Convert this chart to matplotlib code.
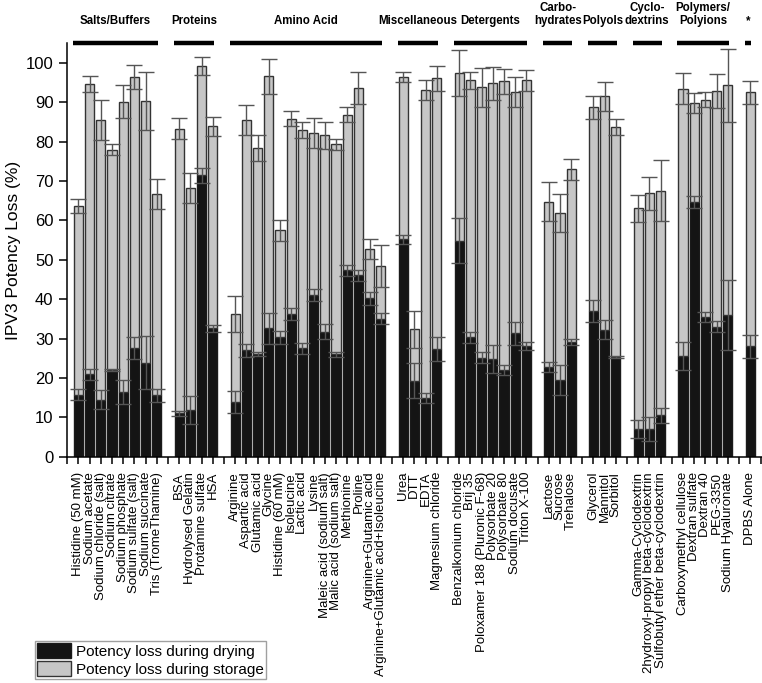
import numpy as np
import matplotlib
matplotlib.use('Agg')
import matplotlib.pyplot as plt
import matplotlib.transforms as mtransforms
from matplotlib.patches import Patch

plt.rcParams['font.family'] = ['Liberation Sans', 'DejaVu Sans']

# excipient groups (label above the chart) and how many bars each holds
group_labels = ['Salts/Buffers', 'Proteins', 'Amino Acid', 'Miscellaneous', 'Detergents',
                'Carbo-\nhydrates', 'Polyols', 'Cyclo-\ndextrins', 'Polymers/\nPolyions', '*']
group_sizes = [8, 4, 14, 4, 7, 3, 3, 3, 5, 1]

excipients = [
    'Histidine (50 mM)', 'Sodium acetate', 'Sodium chloride (salt)', 'Sodium citrate',
    'Sodium phosphate', 'Sodium sulfate (salt)', 'Sodium succinate', 'Tris (TromeThamine)',
    'BSA', 'Hydrolysed Gelatin', 'Protamine sulfate', 'HSA',
    'Arginine', 'Aspartic acid', 'Glutamic acid', 'Glycine', 'Histidine (60 mM)', 'Isoleucine',
    'Lactic acid', 'Lysine', 'Maleic acid (sodium salt)', 'Malic acid (sodium salt)',
    'Methionine', 'Proline', 'Arginine+Glutamic acid', 'Arginine+Glutamic acid+Isoleucine',
    'Urea', 'DTT', 'EDTA', 'Magnesium chloride',
    'Benzalkonium chloride', 'Brij 35', 'Poloxamer 188 (Pluronic F-68)', 'Polysorbate 20',
    'Polysorbate 80', 'Sodium docusate', 'Triton X-100',
    'Lactose', 'Sucrose', 'Trehalose',
    'Glycerol', 'Mannitol', 'Sorbitol',
    'Gamma-Cyclodextrin', '2hydroxyl-propyl beta-cyclodextrin', 'Sulfobutyl ether beta-cyclodextrin',
    'Carboxymethyl cellulose', 'Dextran sulfate', 'Dextran 40', 'PEG-3350', 'Sodium Hyaluronate',
    'DPBS Alone',
]

# potency loss (%) during drying
drying = [15.8, 21.0, 14.5, 22.1, 16.5, 27.6, 23.9, 15.6,
          11.0, 11.8, 71.5, 32.6,
          13.9, 27.0, 26.2, 32.6, 30.3, 36.2, 27.5, 41.1, 31.7, 26.0, 47.3, 46.1, 40.2, 35.0,
          55.2, 19.3, 15.0, 27.3,
          54.9, 30.3, 25.2, 24.9, 22.1, 31.3, 28.1,
          22.8, 19.5, 29.1,
          37.1, 32.3, 25.4,
          7.0, 7.0, 10.5,
          25.6, 64.7, 35.5, 33.0, 36.1,
          28.1]
drying_err = [1.3, 1.4, 2.4, 0.3, 3.1, 2.8, 6.7, 1.7,
              0.6, 3.6, 1.9, 0.9,
              2.8, 1.7, 0.5, 3.9, 1.7, 1.5, 1.5, 1.6, 1.9, 0.7, 1.4, 1.4, 1.7, 1.4,
              1.2, 4.4, 1.3, 3.0,
              5.8, 1.5, 1.4, 3.6, 1.3, 3.0, 1.1,
              1.3, 3.7, 0.7,
              2.8, 2.5, 0.3,
              2.2, 3.1, 1.9,
              3.6, 1.6, 1.3, 1.4, 8.9,
              2.9]

# total potency loss (%) after drying + storage
total = [63.7, 94.7, 85.5, 78.0, 90.2, 96.5, 90.4, 66.7,
         83.3, 68.3, 99.2, 83.9,
         36.3, 85.5, 78.4, 96.6, 57.5, 85.8, 83.0, 82.2, 81.6, 79.3, 86.9, 93.7, 52.7, 48.4,
         96.4, 32.4, 93.2, 96.1,
         97.4, 95.6, 93.8, 94.8, 95.3, 92.6, 95.6,
         64.8, 61.9, 73.0,
         88.8, 91.5, 83.8,
         63.1, 66.9, 67.6,
         93.5, 89.9, 90.7, 92.9, 94.3,
         92.6]
total_err = [1.7, 2.0, 5.1, 1.3, 4.1, 3.1, 7.4, 3.9,
             2.7, 3.8, 2.2, 2.4,
             4.5, 3.8, 3.3, 4.4, 2.7, 1.9, 2.0, 3.8, 3.5, 1.5, 2.0, 4.1, 2.5, 5.4,
             1.3, 4.7, 2.6, 3.2,
             5.9, 2.1, 4.9, 4.2, 3.3, 3.8, 2.6,
             5.0, 4.7, 2.7,
             2.9, 3.6, 2.0,
             3.4, 4.2, 7.8,
             3.9, 2.5, 2.0, 4.4, 9.2,
             2.9]

# one empty slot between groups
group_idx = np.repeat(np.arange(len(group_sizes)), group_sizes)
x = np.arange(len(excipients)) + group_idx
drying = np.array(drying)
total = np.array(total)
storage = total - drying

BLACK = '#141414'
GREY = '#c6c6c6'
ERR = '#555555'

fig = plt.figure(figsize=(7.62, 6.83), dpi=100)
ax = fig.add_axes([0.0883, 0.3313, 0.9117, 0.6053])

width = 0.82
ax.bar(x, drying, width=width, color=BLACK, edgecolor='#1a1a1a', linewidth=1.0, zorder=2)
ax.bar(x, storage, width=width, bottom=drying, color=GREY, edgecolor='#333333',
       linewidth=1.0, zorder=2)
ax.errorbar(x, drying, yerr=drying_err, fmt='none', ecolor=ERR, elinewidth=1.0,
            capsize=5.5, capthick=1.0, zorder=3)
ax.errorbar(x, total, yerr=total_err, fmt='none', ecolor=ERR, elinewidth=1.0,
            capsize=5.5, capthick=1.0, zorder=3)

# x ticks on every slot, labels only under bars
n_slots = int(x[-1]) + 1
ticks = np.arange(-1, n_slots + 1)
labels = [''] * len(ticks)
for xi, name in zip(x, excipients):
    labels[int(xi) + 1] = name
ax.set_xticks(ticks)
ax.set_xticklabels(labels, rotation=90, fontsize=9.5, va='top', ha='center')
ax.set_xlim(-1, n_slots + 0.05)

ax.set_ylim(0, 105)
ax.set_yticks(np.arange(0, 101, 10))
ax.tick_params(axis='y', labelsize=12, direction='out', length=6, width=1.1, pad=4)
ax.tick_params(axis='x', direction='out', length=5, width=1.1, pad=6)
ax.set_ylabel('IPV3 Potency Loss (%)', fontsize=12.5)
ax.yaxis.set_label_coords(-0.066, 0.5)

for s in ['top', 'right']:
    ax.spines[s].set_visible(False)
for s in ['left', 'bottom']:
    ax.spines[s].set_linewidth(1.1)

# group bars and labels above the plot
trans = mtransforms.blended_transform_factory(ax.transData, ax.transAxes)
start = 0
for g, (label, size) in enumerate(zip(group_labels, group_sizes)):
    x0 = x[start] - 0.5
    x1 = x[start + size - 1] + 0.1
    ax.plot([x0, x1], [1.0, 1.0], transform=trans, color='black', linewidth=3.2,
            solid_capstyle='butt', clip_on=False)
    ax.text((x0 + x1) / 2, 1.04, label, transform=trans, ha='center', va='bottom',
            fontsize=8.3, fontweight='bold', linespacing=1.1)
    start += size

handles = [Patch(facecolor=BLACK, edgecolor='#1a1a1a', label='Potency loss during drying'),
           Patch(facecolor=GREY, edgecolor='#333333', label='Potency loss during storage')]
fig.legend(handles=handles, loc='lower left', bbox_to_anchor=(0.046, 0.006),
           fontsize=11, frameon=True, fancybox=False, edgecolor='#888888',
           handlelength=2.2, handleheight=1.1, handletextpad=0.35, labelspacing=0.15,
           borderpad=0.15, borderaxespad=0)

fig.savefig('out.png', dpi=100)
